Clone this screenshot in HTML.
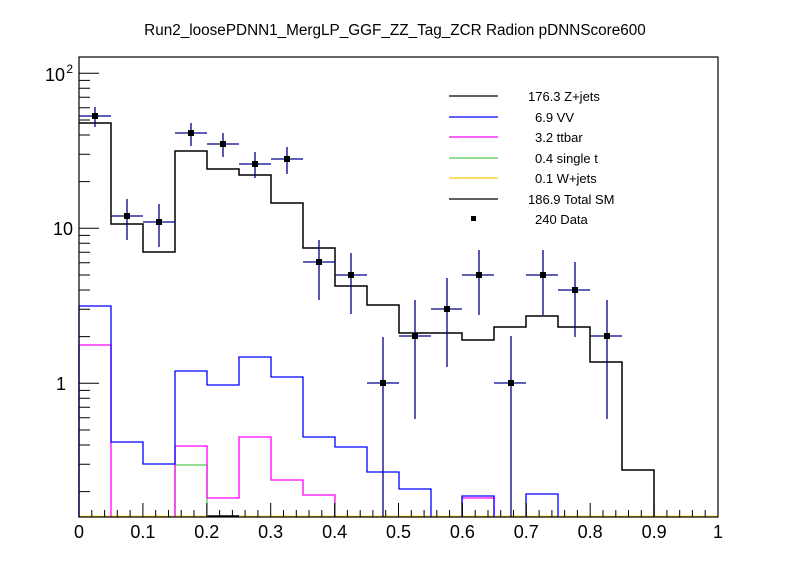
<!DOCTYPE html>
<html><head><meta charset="utf-8"><style>
html,body{margin:0;padding:0;background:#fff;}
svg{display:block;font-family:"Liberation Sans",sans-serif;}
</style></head><body>
<svg width="798" height="575" viewBox="0 0 798 575" xmlns="http://www.w3.org/2000/svg">
<rect width="798" height="575" fill="#fff"/>
<text x="395" y="35" font-size="15.3" text-anchor="middle">Run2_loosePDNN1_MergLP_GGF_ZZ_Tag_ZCR Radion  pDNNScore600</text>
<line x1="79" y1="516.5" x2="718" y2="516.5" stroke="#ffcc00" stroke-width="1.5"/>
<line x1="207" y1="516" x2="239" y2="516" stroke="#000" stroke-width="1.5"/>
<path d="M175,517 V465 H207 V517" fill="none" stroke="#55cc55" stroke-width="1.3"/>
<path d="M79,517 V345 H111 V517 M175,517 V446 H207 V498 H239 V437 H271 V480 H303 V495 H335 V517 M462,517 V498 H494 V517" fill="none" stroke="#ff00ff" stroke-width="1.3"/>
<path d="M79,517 V306 H111 V442 H143 V464 H175 V371 H207 V385 H239 V357 H271 V377 H303 V437 H335 V447 H367 V472 H399 V489 H431 V517 M462,517 V496 H494 V517 M526,517 V494 H558 V517" fill="none" stroke="#0000ff" stroke-width="1.3"/>
<path d="M79,123 H111 V224 H143 V252 H175 V151 H207 V169 H239 V175 H271 V203 H303 V248 H335 V286 H367 V305 H399 V333 H431 V333 H462 V340 H494 V327 H526 V316 H558 V327 H590 V362 H622 V470 H654 V517" fill="none" stroke="#000" stroke-width="1.5"/>
<g stroke="#00008b" stroke-width="1.3">
<path d="M79,116H111M95,107V127 M111,216H143M127,199V240 M143,222H175M159,204V247 M175,133H207M191,123V146 M207,144H239M223,133V157 M239,164H271M255,152V178 M271,159H303M287,147V174 M303,262H335M319,240V300 M335,275H367M351,253V314 M367,383H399M383,337V517 M399,336H431M415,300V419 M431,309H462M447,278V367 M462,275H494M479,250V315 M494,383H526M511,336V517 M526,275H558M543,250V315 M558,290H590M575,262V337 M590,336H622M607,300V419"/>
</g>
<g fill="#000">
<rect x="92" y="113" width="6" height="6"/><rect x="124" y="213" width="6" height="6"/><rect x="156" y="219" width="6" height="6"/><rect x="188" y="130" width="6" height="6"/><rect x="220" y="141" width="6" height="6"/><rect x="252" y="161" width="6" height="6"/><rect x="284" y="156" width="6" height="6"/><rect x="316" y="259" width="6" height="6"/><rect x="348" y="272" width="6" height="6"/><rect x="380" y="380" width="6" height="6"/><rect x="412" y="333" width="6" height="6"/><rect x="444" y="306" width="6" height="6"/><rect x="476" y="272" width="6" height="6"/><rect x="508" y="380" width="6" height="6"/><rect x="540" y="272" width="6" height="6"/><rect x="572" y="287" width="6" height="6"/><rect x="604" y="333" width="6" height="6"/>
</g>
<rect x="79" y="57" width="639" height="460" fill="none" stroke="#000" stroke-width="1.2"/>
<g stroke="#000" stroke-width="1">
<path d="M79,517V503M142.9,517V503M206.8,517V503M270.7,517V503M334.6,517V503M398.5,517V503M462.4,517V503M526.3,517V503M590.2,517V503M654.1,517V503M718,517V503"/>
<path d="M91.8,517V510M104.6,517V510M117.3,517V510M130.1,517V510M155.7,517V510M168.5,517V510M181.2,517V510M194,517V510M219.6,517V510M232.4,517V510M245.1,517V510M257.9,517V510M283.5,517V510M296.3,517V510M309,517V510M321.8,517V510M347.4,517V510M360.2,517V510M372.9,517V510M385.7,517V510M411.3,517V510M424.1,517V510M436.8,517V510M449.6,517V510M475.2,517V510M488,517V510M500.7,517V510M513.5,517V510M539.1,517V510M551.9,517V510M564.6,517V510M577.4,517V510M603,517V510M615.8,517V510M628.5,517V510M641.3,517V510M666.9,517V510M679.7,517V510M692.4,517V510M705.2,517V510"/>
<path d="M79,383.3H99M79,228.3H99M79,73.3H99"/>
<path d="M79,491.6H90M79,464.3H90M79,445H90M79,430H90M79,417.7H90M79,407.3H90M79,398.3H90M79,390.4H90M79,336.6H90M79,309.3H90M79,290H90M79,275H90M79,262.7H90M79,252.3H90M79,243.3H90M79,235.4H90M79,181.6H90M79,154.3H90M79,135H90M79,120H90M79,107.7H90M79,97.3H90M79,88.3H90M79,80.4H90"/>
</g>
<g font-size="18" text-anchor="middle">
<text x="79" y="538">0</text><text x="142.9" y="538">0.1</text><text x="206.8" y="538">0.2</text><text x="270.7" y="538">0.3</text><text x="334.6" y="538">0.4</text><text x="398.5" y="538">0.5</text><text x="462.4" y="538">0.6</text><text x="526.3" y="538">0.7</text><text x="590.2" y="538">0.8</text><text x="654.1" y="538">0.9</text><text x="718" y="538">1</text>
</g>
<g font-size="18" text-anchor="end">
<text x="66" y="390">1</text><text x="73" y="235">10</text><text x="65" y="81">10</text><text x="73" y="73" font-size="12">2</text>
</g>
<g stroke-width="1.3">
<line x1="449" y1="96" x2="498" y2="96" stroke="#000"/>
<line x1="449" y1="117" x2="498" y2="117" stroke="#0000ff"/>
<line x1="449" y1="137" x2="498" y2="137" stroke="#ff00ff"/>
<line x1="449" y1="158" x2="498" y2="158" stroke="#55cc55"/>
<line x1="449" y1="178" x2="498" y2="178" stroke="#ffcc00"/>
<line x1="449" y1="199" x2="498" y2="199" stroke="#000"/>
</g>
<rect x="471" y="216" width="5" height="5" fill="#000"/>
<g font-size="13">
<text x="528" y="101">176.3 Z+jets</text>
<text x="535" y="122">6.9 VV</text>
<text x="535" y="142">3.2 ttbar</text>
<text x="535" y="163">0.4 single t</text>
<text x="535" y="183">0.1 W+jets</text>
<text x="528" y="204">186.9 Total SM</text>
<text x="535" y="224">240 Data</text>
</g>
</svg>
</body></html>
